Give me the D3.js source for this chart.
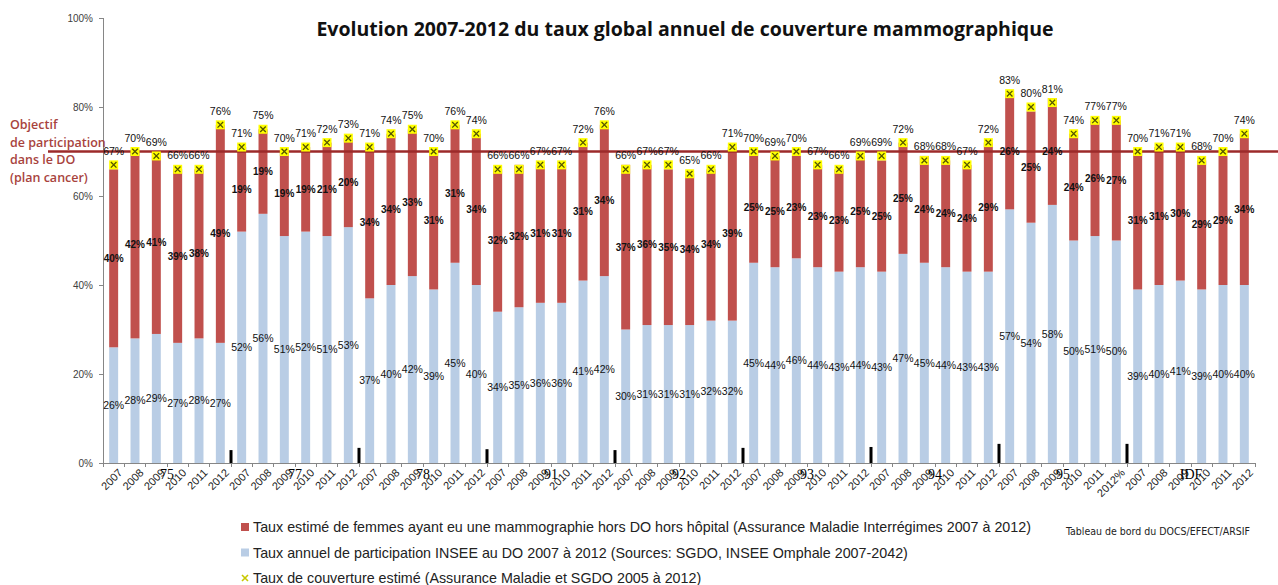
<!DOCTYPE html>
<html lang="fr">
<head>
    <meta charset="UTF-8">
    <title>Couverture mammographique 2007-2012</title>
    <script src="https://cdn.jsdelivr.net/npm/d3@7/dist/d3.min.js"></script>
    <style>
        body { margin: 0; background: #fff; }
        svg text { font-family: "Liberation Sans", Arial, sans-serif; }
        svg g.axis path, svg g.axis line {
            stroke: #868686;
            shape-rendering: crispEdges;
        }
        svg g.axis text {
            font-size: 10px;
            fill: #404040;
        }
    </style>
</head>
<body>
    <script>
        //width and height of the page
        var w = 1278;
        var h = 585;

        //departments, years
        var groups = ['75', '77', '78', '91', '92', '93', '94', '95', 'IDF'];
        var years = ['2007', '2008', '2009', '2010', '2011', '2012'];
        //the source sheet has a stray % on the last label of 95
        var yearLabels = groups.map(function(g) {
            return g === '95' ? ['2007', '2008', '2009', '2010', '2011', '2012%'] : years;
        });

        //Taux estimé hors DO hors hôpital (red, stacked on top)
        var horsDO = [
            40, 42, 41, 39, 38, 49,   // 75
            19, 19, 19, 19, 21, 20,   // 77
            34, 34, 33, 31, 31, 34,   // 78
            32, 32, 31, 31, 31, 34,   // 91
            37, 36, 35, 34, 34, 39,   // 92
            25, 25, 23, 23, 23, 25,   // 93
            25, 25, 24, 24, 24, 29,   // 94
            26, 25, 24, 24, 26, 27,   // 95
            31, 31, 30, 29, 29, 34    // IDF
        ];

        //Taux annuel de participation INSEE au DO (blue)
        var participationDO = [
            26, 28, 29, 27, 28, 27,
            52, 56, 51, 52, 51, 53,
            37, 40, 42, 39, 45, 40,
            34, 35, 36, 36, 41, 42,
            30, 31, 31, 31, 32, 32,
            45, 44, 46, 44, 43, 44,
            43, 47, 45, 44, 43, 43,
            57, 54, 58, 50, 51, 50,
            39, 40, 41, 39, 40, 40
        ];

        //Taux de couverture estimé (yellow markers)
        var couverture = [
            67, 70, 69, 66, 66, 76,
            71, 75, 70, 71, 72, 73,
            71, 74, 75, 70, 76, 74,
            66, 66, 67, 67, 72, 76,
            66, 67, 67, 65, 66, 71,
            70, 69, 70, 67, 66, 69,
            69, 72, 68, 68, 67, 72,
            83, 80, 81, 74, 77, 77,
            70, 71, 71, 68, 70, 74
        ];

        //small black separators between departments
        var separators = [2.9, 3.4, 3.1, 2.9, 3.4, 3.6, 4.3, 4.3];

        var objectif = 70;
        var yTicks = [0, 20, 40, 60, 80, 100];

        var legendLabels = [
            'Taux estimé de femmes ayant eu une mammographie hors DO hors hôpital (Assurance Maladie Interrégimes 2007 à 2012)',
            'Taux annuel de participation INSEE au DO 2007 à 2012 (Sources: SGDO, INSEE Omphale 2007-2042)',
            'Taux de couverture estimé (Assurance Maladie et SGDO 2005 à 2012)'
        ];

        var red = '#c0504d';
        var blue = '#b9cde5';

        //one row per bar
        var rows = [];
        groups.forEach(function(g, gi) {
            years.forEach(function(y, yi) {
                var i = gi * 6 + yi;
                rows.push({
                    key: g + '-' + y,
                    group: g,
                    label: yearLabels[gi][yi],
                    blue: participationDO[i],
                    red: horsDO[i],
                    cov: couverture[i]
                });
            });
        });

        //plot area
        var plotLeft = 103, plotRight = 1255, plotTop = 18, plotBottom = 463;

        var xScale = d3.scaleBand()
                        .domain(rows.map(function(d) { return d.key; }))
                        .range([plotLeft, plotRight])
                        .paddingInner(0.58)
                        .paddingOuter(0.29);

        var groupScale = d3.scaleBand()
                        .domain(groups)
                        .range([plotLeft, plotRight]);

        var yScale = d3.scaleLinear()
                        .domain([0, 100])
                        .range([plotBottom, plotTop]);

        var svg = d3.select('body')
                    .append('svg')
                    .attr('width', w)
                    .attr('height', h);

        //title
        svg.append('text')
            .attr('x', 685)
            .attr('y', 36)
            .attr('text-anchor', 'middle')
            .style('font-family', '"Open Sans", sans-serif')
            .style('font-weight', 'bold')
            .style('font-size', '19.5px')
            .attr('fill', '#111')
            .text('Evolution 2007-2012 du taux global annuel de couverture mammographique');

        //y axis
        var yAxis = d3.axisLeft(yScale)
                        .tickValues(yTicks)
                        .tickSize(4)
                        .tickFormat(function(d) { return d + '%'; });

        svg.append('g')
            .attr('class', 'axis')
            .attr('transform', 'translate(' + plotLeft + ',0)')
            .call(yAxis)
            .call(function(g) { g.selectAll('text').attr('x', -10); });

        //blue bars
        svg.append('g').selectAll('rect')
            .data(rows)
            .enter()
            .append('rect')
            .attr('x', function(d) { return xScale(d.key); })
            .attr('width', xScale.bandwidth())
            .attr('y', function(d) { return yScale(d.blue); })
            .attr('height', function(d) { return yScale(0) - yScale(d.blue); })
            .attr('fill', blue);

        //red bars on top
        svg.append('g').selectAll('rect')
            .data(rows)
            .enter()
            .append('rect')
            .attr('x', function(d) { return xScale(d.key); })
            .attr('width', xScale.bandwidth())
            .attr('y', function(d) { return yScale(d.blue + d.red); })
            .attr('height', function(d) { return yScale(d.blue) - yScale(d.blue + d.red); })
            .attr('fill', red);

        //separators
        svg.append('g').selectAll('rect')
            .data(separators)
            .enter()
            .append('rect')
            .attr('x', function(d, i) { return groupScale(groups[i + 1]) - 1.5; })
            .attr('width', 3)
            .attr('y', function(d) { return yScale(d); })
            .attr('height', function(d) { return yScale(0) - yScale(d); })
            .attr('fill', '#000');

        //x axis with a tick at each bar boundary
        var boundaries = rows.map(function(d) { return xScale(d.key) - xScale.step() * xScale.paddingInner() / 2; });
        boundaries.push(plotRight);
        var xAxisG = svg.append('g').attr('class', 'axis');
        xAxisG.append('line')
            .attr('x1', plotLeft).attr('x2', plotRight)
            .attr('y1', plotBottom).attr('y2', plotBottom);
        xAxisG.selectAll('line.tick')
            .data(boundaries)
            .enter()
            .append('line')
            .attr('class', 'tick')
            .attr('x1', function(d) { return d; })
            .attr('x2', function(d) { return d; })
            .attr('y1', plotBottom)
            .attr('y2', plotBottom + 4);

        //year labels, rotated
        svg.append('g').selectAll('text')
            .data(rows)
            .enter()
            .append('text')
            .attr('transform', function(d) {
                var cx = xScale(d.key) + xScale.bandwidth() / 2 + 4;
                return 'translate(' + cx + ',' + (plotBottom + 5) + ') rotate(-45)';
            })
            .attr('text-anchor', 'end')
            .attr('dy', '0.7em')
            .style('font-size', '11px')
            .attr('fill', '#222')
            .text(function(d) { return d.label; });

        //department labels
        svg.append('g').selectAll('text')
            .data(groups)
            .enter()
            .append('text')
            .attr('x', function(d) { return groupScale(d) + groupScale.bandwidth() / 2; })
            .attr('y', plotBottom + 16)
            .attr('text-anchor', 'middle')
            .style('font-family', '"Liberation Serif", serif')
            .style('font-size', '14px')
            .attr('fill', '#000')
            .text(function(d) { return d; });

        //objective line
        svg.append('line')
            .attr('x1', 48)
            .attr('x2', w)
            .attr('y1', yScale(objectif))
            .attr('y2', yScale(objectif))
            .attr('stroke', '#9c2a2a')
            .attr('stroke-width', 2.5);

        var objLines = ['Objectif', 'de participation', 'dans le DO', '(plan cancer)'];
        svg.append('g').selectAll('text')
            .data(objLines)
            .enter()
            .append('text')
            .attr('x', 10)
            .attr('y', function(d, i) { return 129 + i * 17.5; })
            .style('font-family', '"Open Sans", sans-serif')
            .style('font-size', '12.5px')
            .style('font-weight', '600')
            .attr('fill', '#a8433d')
            .text(function(d) { return d; });

        //blue labels
        svg.append('g').selectAll('text')
            .data(rows)
            .enter()
            .append('text')
            .attr('x', function(d) { return xScale(d.key) + xScale.bandwidth() / 2; })
            .attr('y', function(d) { return yScale(d.blue / 2); })
            .attr('dy', '0.35em')
            .attr('text-anchor', 'middle')
            .style('font-size', '10.5px')
            .attr('fill', '#111')
            .text(function(d) { return d.blue + '%'; });

        //red labels
        svg.append('g').selectAll('text')
            .data(rows)
            .enter()
            .append('text')
            .attr('x', function(d) { return xScale(d.key) + xScale.bandwidth() / 2; })
            .attr('y', function(d) { return yScale(d.blue + d.red / 2); })
            .attr('dy', '0.35em')
            .attr('text-anchor', 'middle')
            .style('font-size', '10px')
            .style('font-weight', 'bold')
            .attr('fill', '#111')
            .text(function(d) { return d.red + '%'; });

        //coverage markers
        var markers = svg.append('g').selectAll('g')
            .data(rows)
            .enter()
            .append('g')
            .attr('transform', function(d) {
                return 'translate(' + (xScale(d.key) + xScale.bandwidth() / 2) + ',' + yScale(d.cov) + ')';
            });
        markers.append('rect')
            .attr('x', -4.5).attr('y', -4.5)
            .attr('width', 9).attr('height', 9)
            .attr('fill', '#ffff00');
        markers.append('path')
            .attr('d', 'M-2.8,-2.8L2.8,2.8M-2.8,2.8L2.8,-2.8')
            .attr('stroke', '#555500')
            .attr('stroke-width', 1.3);

        //coverage labels
        svg.append('g').selectAll('text')
            .data(rows)
            .enter()
            .append('text')
            .attr('x', function(d) { return xScale(d.key) + xScale.bandwidth() / 2; })
            .attr('y', function(d) { return yScale(d.cov) - 10; })
            .attr('text-anchor', 'middle')
            .style('font-size', '10.5px')
            .attr('fill', '#111')
            .text(function(d) { return d.cov + '%'; });

        //legend
        var legend = svg.append('g').selectAll('g')
            .data(legendLabels)
            .enter()
            .append('g')
            .attr('transform', function(d, i) { return 'translate(241,' + (527 + i * 25.5) + ')'; });

        legend.append('text')
            .attr('x', 12)
            .attr('dy', '0.35em')
            .style('font-size', '14.3px')
            .attr('fill', '#222')
            .text(function(d) { return d; });

        legend.filter(function(d, i) { return i < 2; })
            .append('rect')
            .attr('x', 0).attr('y', -4)
            .attr('width', 8).attr('height', 8)
            .attr('fill', function(d, i) { return i === 0 ? red : blue; });

        legend.filter(function(d, i) { return i === 2; })
            .append('path')
            .attr('d', 'M1,-3L7,3M1,3L7,-3')
            .attr('stroke', '#c8c800')
            .attr('stroke-width', 1.6);

        //source
        svg.append('text')
            .attr('x', 1066)
            .attr('y', 535)
            .style('font-family', '"DejaVu Sans Condensed", "DejaVu Sans", sans-serif')
            .style('font-size', '10.5px')
            .attr('fill', '#222')
            .text('Tableau de bord du DOCS/EFECT/ARSIF');
    </script>
</body>
</html>
